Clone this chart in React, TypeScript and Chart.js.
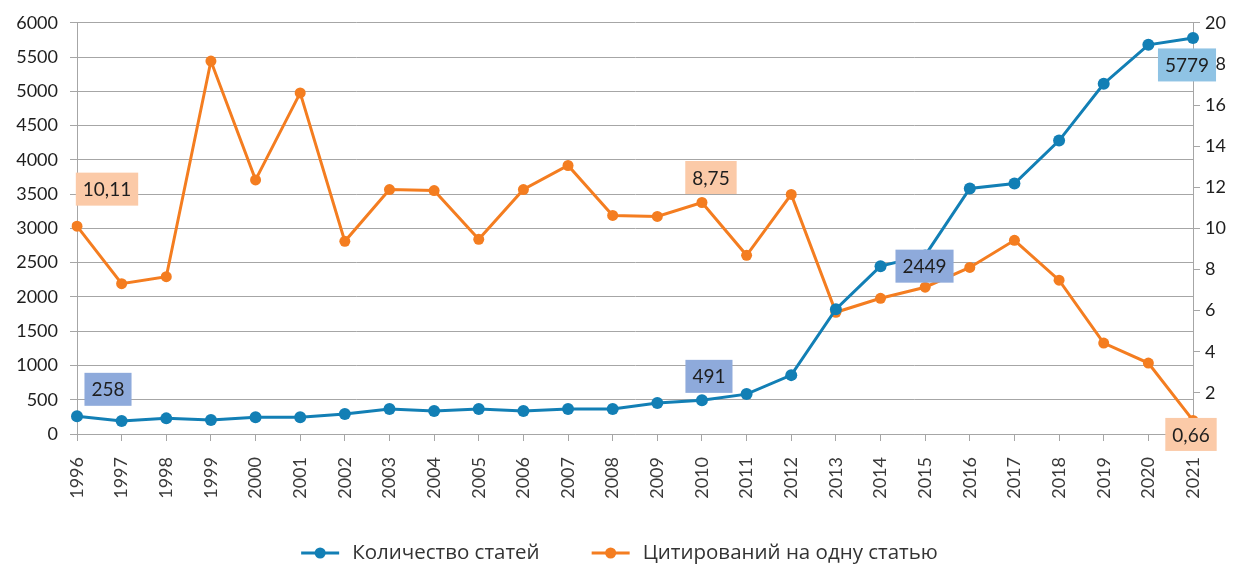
import React, { useEffect, useRef } from "react";
import { Chart, registerables } from "chart.js";

Chart.register(...registerables);

const years = ["1996","1997","1998","1999","2000","2001","2002","2003","2004","2005","2006","2007","2008","2009","2010","2011","2012","2013","2014","2015","2016","2017","2018","2019","2020","2021"];
const articles = [258,189,228,204,243,243,291,364,335,364,335,364,364,451,491,582,859,1820,2449,2606,3582,3655,4281,5111,5679,5779];
const citations = [10.11,7.31,7.65,18.14,12.36,16.59,9.37,11.89,11.84,9.47,11.89,13.06,10.63,10.58,11.26,8.69,11.65,5.92,6.6,7.14,8.1,9.42,7.48,4.42,3.45,0.66];

const seriesNames = ["Количество статей", "Цитирований на одну статью"];
const leftTicks = [0,500,1000,1500,2000,2500,3000,3500,4000,4500,5000,5500,6000];
const rightTicks = [0,2,4,6,8,10,12,14,16,18,20];

const articleLabelIdx = [0, 14, 18, 25];
const articleLabelText = ["258", "491", "2449", "5779"];
const citeLabelIdx = [0, 14, 25];
const citeLabelText = ["10,11", "8,75", "0,66"];

const BLUE = "#127fb5";
const ORANGE = "#f47d20";

const boxLabels = {
  id: "boxLabels",
  afterDatasetsDraw(chart: any, _a: any, opts: any) {
    const ctx = chart.ctx;
    ctx.save();
    ctx.font = "19px Lato";
    ctx.textAlign = "center";
    ctx.textBaseline = "middle";
    for (const l of opts.items) {
      const meta = chart.getDatasetMeta(l.ds);
      const pt = meta.data[l.idx];
      const cx = pt.x + l.dx;
      const cy = pt.y + l.dy;
      const w = ctx.measureText(l.text).width + 14;
      const h = 33;
      ctx.fillStyle = l.bg;
      ctx.fillRect(cx - w / 2, cy - h / 2, w, h);
      ctx.fillStyle = "#1e1e1e";
      ctx.fillText(l.text, cx, cy + 1);
    }
    ctx.restore();
  },
};

const lineLegend = {
  id: "lineLegend",
  afterDraw(chart: any, _a: any, opts: any) {
    const ctx = chart.ctx;
    ctx.save();
    ctx.font = opts.font;
    ctx.textBaseline = "middle";
    ctx.textAlign = "left";
    const ds = chart.data.datasets;
    const widths = ds.map((d: any) => opts.iconW + opts.textGap + ctx.measureText(d.label).width);
    const total = widths.reduce((a: number, b: number) => a + b, 0) + opts.itemGap * (ds.length - 1);
    let x = (chart.width - total) / 2;
    const y = opts.y;
    ds.forEach((d: any, i: number) => {
      ctx.strokeStyle = d.borderColor;
      ctx.lineWidth = 3;
      ctx.beginPath(); ctx.moveTo(x, y); ctx.lineTo(x + opts.iconW, y); ctx.stroke();
      ctx.fillStyle = d.borderColor;
      ctx.beginPath(); ctx.arc(x + opts.iconW / 2, y, 5.5, 0, Math.PI * 2); ctx.fill();
      ctx.fillStyle = opts.color;
      ctx.fillText(d.label, x + opts.iconW + opts.textGap, y);
      x += widths[i] + opts.itemGap;
    });
    ctx.restore();
  },
};

const blueOffsets = [[31, -27, "#8eaadb"], [7, -24, "#8eaadb"], [44, 0, "#8eaadb"], [-6, 27, "#8fc3e4"]];
const orangeOffsets = [[30, -37], [9, -25], [-2, 14]];

export default function App() {
  const ref = useRef<HTMLCanvasElement>(null);
  useEffect(() => {
    document.body.style.margin = "0";
    const items: any[] = [];
    articleLabelIdx.forEach((idx, i) => items.push({ ds: 0, idx, text: articleLabelText[i], dx: blueOffsets[i][0], dy: blueOffsets[i][1], bg: blueOffsets[i][2] }));
    citeLabelIdx.forEach((idx, i) => items.push({ ds: 1, idx, text: citeLabelText[i], dx: orangeOffsets[i][0], dy: orangeOffsets[i][1], bg: "#fbcaa8" }));
    const chart = new Chart(ref.current!, {
      type: "line",
      data: {
        labels: years,
        datasets: [
          { label: seriesNames[0], data: articles, borderColor: BLUE, backgroundColor: BLUE, borderWidth: 3, pointRadius: 6, pointBackgroundColor: BLUE, pointBorderWidth: 0, yAxisID: "y", tension: 0 },
          { label: seriesNames[1], data: citations, borderColor: ORANGE, backgroundColor: ORANGE, borderWidth: 3, pointRadius: 5.5, pointBackgroundColor: ORANGE, pointBorderWidth: 0, yAxisID: "y1", tension: 0 },
        ],
      },
      options: {
        animation: false,
        responsive: false,
        layout: { padding: { top: 22, left: 0, right: 0, bottom: 0 } },
        plugins: {
          tooltip: { enabled: false },
          legend: { display: false },
          boxLabels: { items },
          lineLegend: { font: "20.5px 'Open Sans'", color: "#333", iconW: 38, textGap: 13, itemGap: 52, y: 553 },
        } as any,
        scales: {
          x: {
            offset: false,
            grid: { display: true, drawOnChartArea: false, drawTicks: true, tickLength: 7, color: "#a6a6a6" },
            border: { color: "#a6a6a6" },
            ticks: { minRotation: 90, maxRotation: 90, color: "#3a3a3a", font: { family: "Lato", size: 18 }, padding: 16, autoSkip: false },
            afterFit: (s: any) => { s.height = 132; },
          },
          y: {
            position: "left",
            min: 0, max: 6000,
            afterBuildTicks: (s: any) => { s.ticks = leftTicks.map((v) => ({ value: v })); },
            grid: { color: "#a6a6a6", tickLength: 7, lineWidth: 1 },
            border: { color: "#a6a6a6" },
            ticks: { color: "#1e1e1e", font: { family: "Lato", size: 18 }, padding: 12, callback: (v: any) => String(v) },
            afterFit: (s: any) => { s.width = 77; },
          },
          y1: {
            position: "right",
            min: 0, max: 20,
            z: 1,
            afterBuildTicks: (s: any) => { s.ticks = rightTicks.map((v) => ({ value: v })); },
            grid: { drawOnChartArea: false, color: "#a6a6a6", tickLength: 7 },
            border: { color: "#a6a6a6" },
            ticks: { color: "#1e1e1e", font: { family: "Lato", size: 18 }, padding: 5, callback: (v: any) => String(v) },
            afterFit: (s: any) => { s.width = 46; },
          },
        },
      },
      plugins: [boxLabels, lineLegend],
    });
    return () => chart.destroy();
  }, []);
  return (
    <div style={{ width: 1239, height: 566, background: "#fff" }}>
      <canvas ref={ref} width={1239} height={566} style={{ display: "block" }} />
    </div>
  );
}
